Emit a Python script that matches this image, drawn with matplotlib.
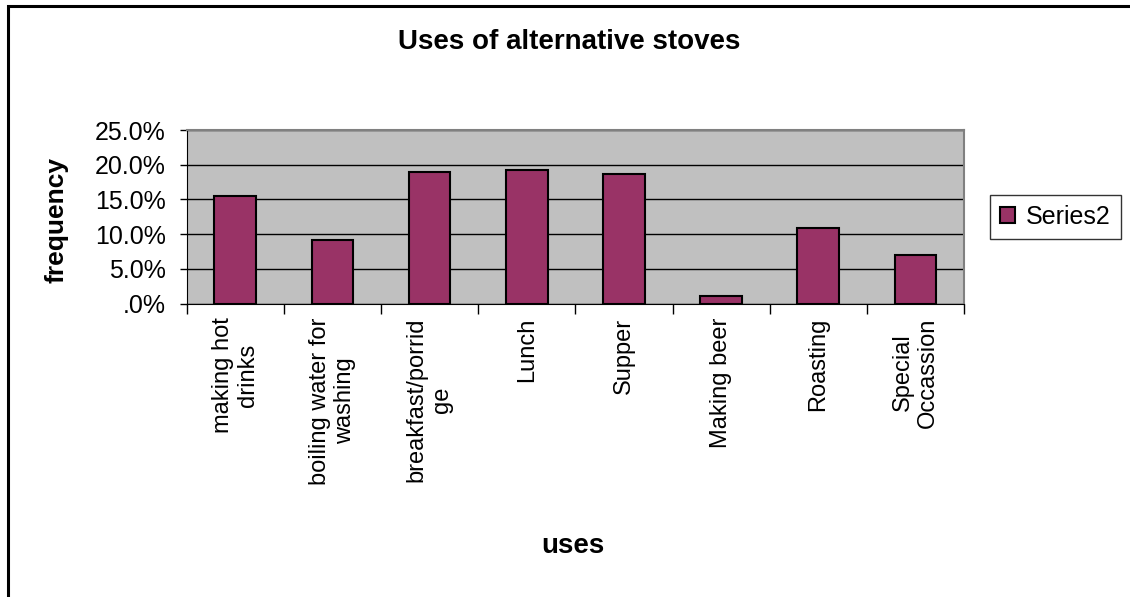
import matplotlib.pyplot as plt
from matplotlib.patches import Rectangle
from matplotlib.ticker import FixedLocator

plt.rcParams['font.family'] = ['Liberation Sans', 'DejaVu Sans']

uses = ["making hot\ndrinks", "boiling water for\nwashing", "breakfast/porrid\nge",
        "Lunch", "Supper", "Making beer", "Roasting", "Special\nOccassion"]
series2 = [0.155, 0.091, 0.190, 0.193, 0.187, 0.011, 0.109, 0.070]
yticks = [0.0, 0.05, 0.10, 0.15, 0.20, 0.25]
ytick_labels = [".0%", "5.0%", "10.0%", "15.0%", "20.0%", "25.0%"]

fig = plt.figure(figsize=(11.3, 5.97), dpi=100)
ax = fig.add_axes([0.1652, 0.4916, 0.6879, 0.2906])
ax.set_facecolor("#C0C0C0")

x = list(range(len(uses)))
ax.bar(x, series2, width=0.43, color="#993366", edgecolor="black",
       linewidth=1.5, label="Series2", zorder=3)

ax.set_xlim(-0.5, len(uses) - 0.5)
ax.set_ylim(0, 0.25)
ax.set_yticks(yticks)
ax.set_yticklabels(ytick_labels, fontsize=18)
ax.yaxis.grid(True, color="black", linewidth=1.0, zorder=1)
ax.tick_params(axis="y", length=5, width=1, pad=10)

# category labels at the centres, tick marks between categories
ax.set_xticks(x)
ax.set_xticklabels(uses, rotation=90, fontsize=17, ha="center", va="top",
                   multialignment="center", linespacing=1.2)
ax.tick_params(axis="x", which="major", length=0, pad=10)
ax.xaxis.set_minor_locator(FixedLocator([i - 0.5 for i in range(len(uses) + 1)]))
ax.tick_params(axis="x", which="minor", length=7, width=1)

for side in ["top", "right"]:
    ax.spines[side].set_color("#808080")
    ax.spines[side].set_linewidth(1.5)
ax.spines["left"].set_color("black")
ax.spines["bottom"].set_color("black")

fig.text(0.0504, 0.631, "frequency", rotation=90, ha="center", va="center",
         fontsize=19, fontweight="bold")
fig.text(0.507, 0.085, "uses", ha="center", va="center",
         fontsize=20, fontweight="bold")
fig.text(0.5035, 0.9296, "Uses of alternative stoves", ha="center", va="center",
         fontsize=20, fontweight="bold")

leg = fig.legend(loc="center left", bbox_to_anchor=(0.876, 0.6365),
                 fontsize=18, frameon=True, fancybox=False,
                 handlelength=0.6, handleheight=0.6, handletextpad=0.45,
                 borderpad=0.4, borderaxespad=0)
leg.get_frame().set_edgecolor("black")
leg.get_frame().set_linewidth(1.0)

# chart border, running off the right and bottom edges
fig.add_artist(Rectangle((8 / 1130, -0.2), 1.2, 1.2 - 6 / 597,
                         transform=fig.transFigure, fill=False,
                         edgecolor="black", linewidth=2.2))

fig.savefig("out.png", dpi=100)
